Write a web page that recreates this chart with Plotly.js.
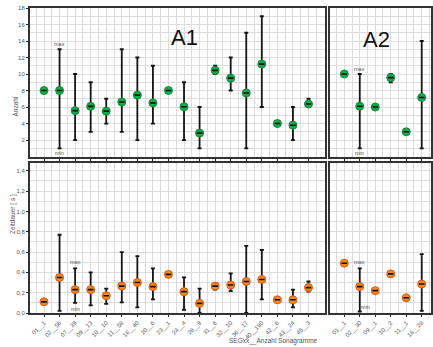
<!DOCTYPE html>
<html><head><meta charset="utf-8">
<script src="https://cdn.plot.ly/plotly-3.0.1.min.js"></script>
<style>html,body{margin:0;padding:0;background:#fff}#c{width:433px;height:347px}</style>
</head><body><div id="c"></div>
<script>
const catA1 = ["01__1","02__56","07__39","09__13","10__10","11__58","16__40","20__6","23__1","24__4","28__9","31__6","32__10","36__17","40__180","42__6","43__24","45__3"];
const catA2 = ["01__1","02__30","09__1","10__2","11__1","18__28"];

const countMeanA1 = [8,8,5.56,6.08,5.5,6.6,7.44,6.5,8,6.04,2.84,10.44,9.5,7.7,11.2,4,3.8,6.36];
const countMaxA1  = [8,13,10,9,7,13,12,11,8,9,6,11,12,15,17,4,6,7];
const countMinA1  = [8,1,2,3,4,3,2,4,8,2,1,10,8,1,6,4,2,6];

const countMeanA2 = [10,6.1,6,9.56,3,7.16];
const countMaxA2  = [10,10,6,10,3,14];
const countMinA2  = [10,1,6,9,3,1];

const durMeanA1 = [0.11,0.35,0.23,0.23,0.17,0.265,0.30,0.26,0.38,0.21,0.095,0.265,0.275,0.31,0.33,0.13,0.13,0.25];
const durMaxA1  = [0.11,0.77,0.44,0.40,0.24,0.60,0.56,0.44,0.38,0.35,0.24,0.295,0.39,0.66,0.62,0.13,0.23,0.31];
const durMinA1  = [0.11,0.02,0.10,0.075,0.09,0.105,0.055,0.135,0.38,0.03,0.0,0.23,0.215,0.0,0.135,0.13,0.055,0.21];

const durMeanA2 = [0.49,0.26,0.22,0.385,0.15,0.285];
const durMaxA2  = [0.49,0.44,0.22,0.41,0.15,0.58];
const durMinA2  = [0.49,0.015,0.22,0.36,0.15,0.02];

const GREEN = '#17a84b', ORANGE = '#f58a1f';
const idx = a => a.map((_, i) => i);

function series(cats, mean, mx, mn, xa, ya, color) {
  const x = idx(cats);
  return [
    {type:'scatter', mode:'markers', x:x, y:mean, xaxis:xa, yaxis:ya,
     marker:{size:8, color:color, line:{width:1, color: color === GREEN ? '#0f8a3a' : '#e2531a'}},
     error_y:{type:'data', symmetric:false,
       array: mean.map((m,i)=>mx[i]-m), arrayminus: mean.map((m,i)=>m-mn[i]),
       color:'#151515', thickness:1.8, width:2},
     hoverinfo:'skip', showlegend:false, cliponaxis:false},
    {type:'scatter', mode:'markers', x:x, y:mean, xaxis:xa, yaxis:ya,
     marker:{symbol:'line-ew', size:4, line:{width:1.6, color:'#111'}},
     hoverinfo:'skip', showlegend:false}
  ];
}

const data = [].concat(
  series(catA1, countMeanA1, countMaxA1, countMinA1, 'x', 'y', GREEN),
  series(catA2, countMeanA2, countMaxA2, countMinA2, 'x2', 'y2', GREEN),
  series(catA1, durMeanA1, durMaxA1, durMinA1, 'x3', 'y3', ORANGE),
  series(catA2, durMeanA2, durMaxA2, durMinA2, 'x4', 'y4', ORANGE)
);

const tickFont = {family:'Liberation Sans, Arial, sans-serif', size:6, color:'#555'};
const GRID = '#dcdcdc';
const LINE = '#333';

function xAxis(cats, domain, anchor, labels, range) {
  return {domain:domain, anchor:anchor, range:range, showgrid:true, gridcolor:GRID, gridwidth:1,
    tickvals: idx(cats), ticktext: cats, showticklabels: labels, tickangle:-45,
    ticks:'outside', ticklen:2, tickwidth:1, tickcolor:'#222', tickfont:tickFont,
    minor:{tick0:0.5, dtick:1, showgrid:true, gridcolor:GRID, ticks:''},
    showline:true, mirror:true, linewidth:2, linecolor:LINE, zeroline:false, fixedrange:true};
}
function yAxis(domain, anchor, range, tickvals, ticktext, minorDtick, labels) {
  return {domain:domain, anchor:anchor, range:range, showgrid:true, gridcolor:GRID, gridwidth:1,
    tickvals:tickvals, ticktext:ticktext, showticklabels:labels,
    ticks: labels ? 'outside' : '', ticklen:2, tickwidth:1, tickcolor:'#222', tickfont:tickFont,
    minor:{dtick:minorDtick, tick0:0, showgrid:true, gridcolor:GRID, ticks:''},
    showline:true, mirror:true, linewidth:2, linecolor:LINE, zeroline:false, fixedrange:true};
}

const countTicks = [2,4,6,8,10,12,14,16,18];
const durTicks = [0,0.2,0.4,0.6,0.8,1.0,1.2,1.4];
const durText = durTicks.map(v => v.toFixed(1).replace('.', ','));

const dxL = [0, 0.736], dxR = [0.749, 1];
const dyT = [0.513, 1], dyB = [0, 0.493];

const small = {family:'Liberation Sans, Arial, sans-serif', size:5.5, color:'#555'};
const big = {family:'Liberation Sans, Arial, sans-serif', size:22, color:'#111'};
const titleFont = {family:'Liberation Sans, Arial, sans-serif', size:6.5, color:'#555'};

const annotations = [
  {text:'A1', xref:'paper', yref:'paper', x:(184-30)/401, y:(313-23)/305, showarrow:false, font:big},
  {text:'A2', xref:'paper', yref:'paper', x:(392-30)/401, y:(313-25)/305, showarrow:false, font:big},
  {text:'max', x:1, y:countMaxA1[1], xref:'x', yref:'y', yshift:5, showarrow:false, font:small},
  {text:'min', x:1, y:countMinA1[1], xref:'x', yref:'y', yshift:-5, showarrow:false, font:small},
  {text:'max', x:1, y:countMaxA2[1], xref:'x2', yref:'y2', yshift:5, showarrow:false, font:small},
  {text:'min', x:1, y:countMinA2[1], xref:'x2', yref:'y2', yshift:-5, showarrow:false, font:small},
  {text:'max', x:2, y:durMaxA1[2], xref:'x3', yref:'y3', yshift:6, showarrow:false, font:small},
  {text:'min', x:2, y:durMinA1[2], xref:'x3', yref:'y3', yshift:-6, showarrow:false, font:small},
  {text:'max', x:1, y:durMaxA2[1], xref:'x4', yref:'y4', yshift:6, showarrow:false, font:small},
  {text:'min', x:1.4, y:durMinA2[1], xref:'x4', yref:'y4', yshift:4, showarrow:false, font:small},
  {text:'Anzahl', xref:'paper', yref:'paper', x:0, xshift:-21, y:(313-95)/305, textangle:-90, showarrow:false, font:titleFont},
  {text:'Zeitdauer [ s ]', xref:'paper', yref:'paper', x:0, xshift:-23, y:(313-236)/305, textangle:-90, showarrow:false, font:titleFont},
  {text:'SEGxx__Anzahl Sonagramme', xref:'paper', yref:'paper', x:(273-30)/401, y:(313-341)/305, yanchor:'middle', showarrow:false, font:titleFont}
];

const layout = {
  width:433, height:347,
  margin:{l:30, r:2, t:8, b:34},
  paper_bgcolor:'#fff', plot_bgcolor:'#fff',
  separators:',.',
  showlegend:false,
  xaxis:  xAxis(catA1, dxL, 'y',  false, [-0.9, 18.07]),
  xaxis2: xAxis(catA2, dxR, 'y2', false, [-0.9, 5.6]),
  xaxis3: xAxis(catA1, dxL, 'y3', true,  [-0.9, 18.07]),
  xaxis4: xAxis(catA2, dxR, 'y4', true,  [-0.9, 5.6]),
  yaxis:  yAxis(dyT, 'x',  [0, 18], countTicks, countTicks.map(String), 1, true),
  yaxis2: yAxis(dyT, 'x2', [0, 18], countTicks, countTicks.map(String), 1, false),
  yaxis3: yAxis(dyB, 'x3', [0, 1.48], durTicks, durText, 0.1, true),
  yaxis4: yAxis(dyB, 'x4', [0, 1.48], durTicks, durText, 0.1, false),
  annotations: annotations
};

Plotly.newPlot('c', data, layout, {displayModeBar:false, staticPlot:true});
</script></body></html>
